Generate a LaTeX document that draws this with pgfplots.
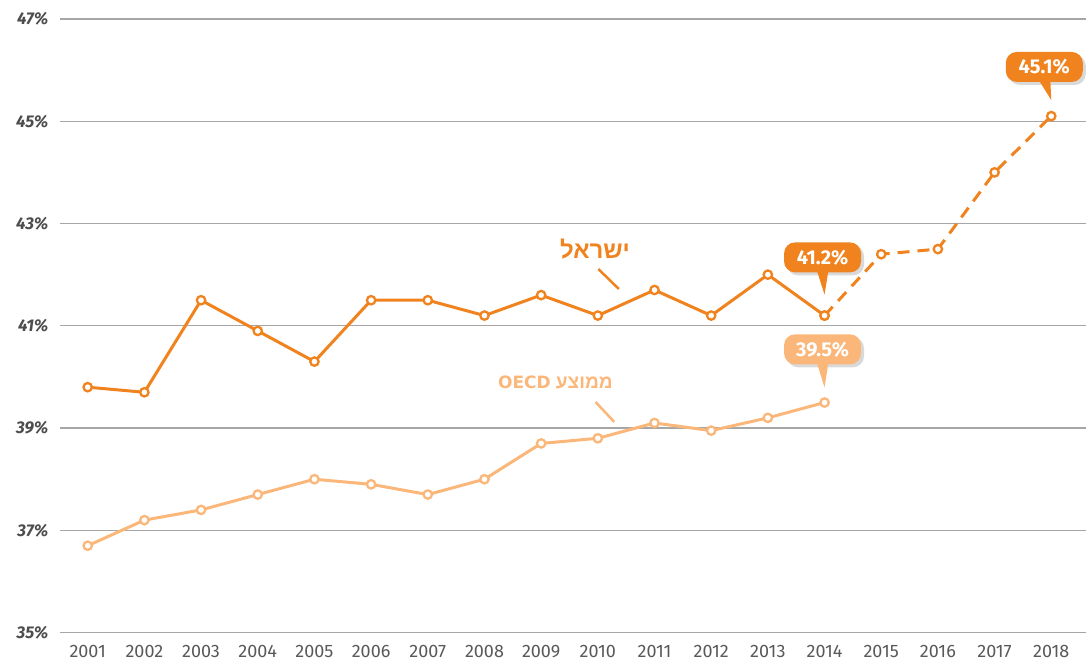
\documentclass[border=0pt]{standalone}
\usepackage{pgfplots}
\pgfplotsset{compat=1.18}
\usepackage{fontspec}
\setmainfont{Fira Sans}
\newfontfamily\hebfont[Script=Hebrew]{Liberation Sans}
\newfontfamily\widefont{DejaVu Sans}
\TeXXeTstate=1
\definecolor{isr}{HTML}{F0831E}
\definecolor{oecd}{HTML}{FBB77A}
\definecolor{gridc}{HTML}{A6A6A6}
\definecolor{ylab}{HTML}{4D4D4D}
\definecolor{xlab}{HTML}{595959}
\definecolor{shad}{HTML}{D9D9D9}
% #1 x, #2 y, #3 colour, #4 text, #5 box x offset, #6 box bottom offset, #7 tip offset
\newcommand{\callout}[7]{%
  \node[fill=shad, rounded corners=11pt, minimum height=30pt, minimum width=77pt, inner xsep=5pt, anchor=south,
        font=\bfseries\fontsize{20}{20}\selectfont] at ([shift={(#5+3pt,#6-3pt)}]axis cs:#1,#2) {\phantom{#4}};
  \fill[#3] ([shift={(#5-6pt,#6+3pt)}]axis cs:#1,#2) -- ([shift={(0pt,#7)}]axis cs:#1,#2) -- ([shift={(#5+6pt,#6+3pt)}]axis cs:#1,#2) -- cycle;
  \node[fill=#3, rounded corners=11pt, minimum height=30pt, minimum width=77pt, inner xsep=5pt, anchor=south,
        font=\bfseries\fontsize{20}{20}\selectfont, text=white] at ([shift={(#5,#6)}]axis cs:#1,#2) {#4};
}
\begin{document}
\begin{tikzpicture}
\begin{axis}[
  scale only axis, width=1027pt, height=614pt,
  xmin=2000.51, xmax=2018.62, ymin=35, ymax=47,
  axis lines*=left, axis line style={draw=none},
  major tick length=0pt,
  ymajorgrids, grid style={gridc, line width=1.2pt},
  ytick={35,37,39,41,43,45,47},
  yticklabels={35\%,37\%,39\%,41\%,43\%,45\%,47\%},
  yticklabel style={font=\bfseries\itshape\fontsize{17}{17}\selectfont, text=ylab, xshift=-8pt},
  xtick={2001,2002,2003,2004,2005,2006,2007,2008,2009,2010,2011,2012,2013,2014,2015,2016,2017,2018},
  xticklabels={2001,2002,2003,2004,2005,2006,2007,2008,2009,2010,2011,2012,2013,2014,2015,2016,2017,2018},
  xticklabel style={font=\fontsize{18}{18}\selectfont, text=xlab, yshift=-9pt},
  clip=false,
]
\path (rel axis cs:-0.0584,-0.0505) rectangle (rel axis cs:1,1.0309);
% OECD average
\addplot[oecd, line width=3pt, mark=*, mark size=4.2pt, mark options={fill=white, line width=2.3pt}] coordinates {
 (2001,36.7) (2002,37.2) (2003,37.4) (2004,37.7) (2005,38.0) (2006,37.9) (2007,37.7)
 (2008,38.0) (2009,38.7) (2010,38.8) (2011,39.1) (2012,38.95) (2013,39.2) (2014,39.5)};
% Israel
\addplot[isr, line width=3pt, mark=*, mark size=4.2pt, mark options={fill=white, line width=2.3pt}] coordinates {
 (2001,39.8) (2002,39.7) (2003,41.5) (2004,40.9) (2005,40.3) (2006,41.5) (2007,41.5)
 (2008,41.2) (2009,41.6) (2010,41.2) (2011,41.7) (2012,41.2) (2013,42.0) (2014,41.2)};
\addplot[isr, line width=3pt, dash pattern=on 12pt off 8pt, mark=*, mark size=4.2pt, mark options={solid, fill=white, line width=2.3pt}] coordinates {
 (2014,41.2) (2015,42.4) (2016,42.5) (2017,44.0) (2018,45.1)};
% series labels
\node[font=\hebfont\bfseries\fontsize{24}{24}\selectfont, text=isr] at (axis cs:2009.95,42.5) {\beginR ישראל\endR};
\draw[isr, line width=2.5pt] (axis cs:2010.01,42.11) -- (axis cs:2010.37,41.72);
\node[font=\hebfont\bfseries\fontsize{19}{19}\selectfont, text=oecd] at (axis cs:2009.25,39.89) {\beginR ממוצע \beginL{\widefont\bfseries\fontsize{17}{17}\selectfont OECD}\endL\endR};
\draw[oecd, line width=2.5pt] (axis cs:2009.96,39.51) -- (axis cs:2010.29,39.12);
% callouts
\callout{2014}{41.2}{isr}{41.2\%}{-2pt}{43pt}{21pt}
\callout{2014}{39.5}{oecd}{39.5\%}{-2pt}{38pt}{15pt}
\callout{2018}{45.1}{isr}{45.1\%}{-7pt}{34pt}{16pt}
\end{axis}
\end{tikzpicture}
\end{document}
